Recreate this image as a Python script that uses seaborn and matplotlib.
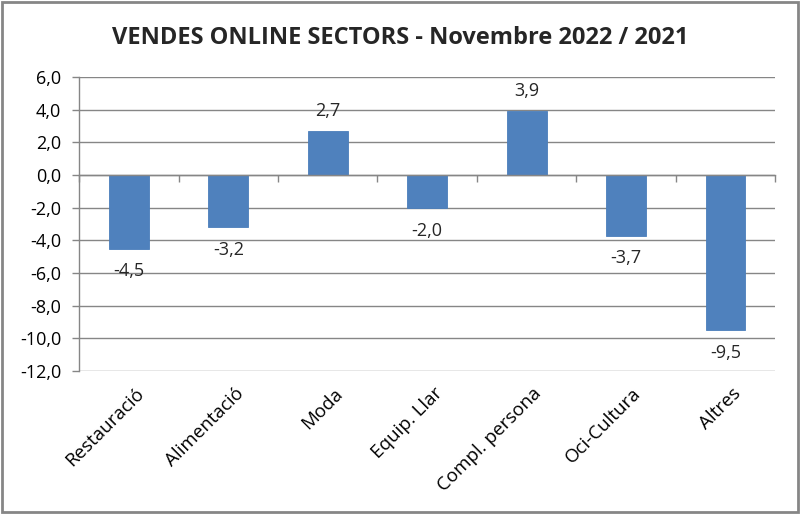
import matplotlib
matplotlib.use("Agg")
import matplotlib.pyplot as plt
import matplotlib.transforms as mtransforms
import seaborn as sns
import pandas as pd
import numpy as np

categories = ["Restauració", "Alimentació", "Moda", "Equip. Llar",
              "Compl. persona", "Oci-Cultura", "Altres"]
values = [-4.5, -3.2, 2.7, -2.0, 3.9, -3.7, -9.5]
title = "VENDES ONLINE SECTORS - Novembre 2022 / 2021"
yticks = [6, 4, 2, 0, -2, -4, -6, -8, -10, -12]

sns.set_theme(style="white")
plt.rcParams['font.family'] = ['Open Sans', 'DejaVu Sans']

df = pd.DataFrame({"sector": categories, "valor": values})

fig = plt.figure(figsize=(8, 5.14), dpi=100)
ax = fig.add_axes([0.099, 0.278, 0.870, 0.572])

sns.barplot(data=df, x="sector", y="valor", color="#4F81BD", saturation=1,
            width=0.4, ax=ax, edgecolor="#4A7EBB", linewidth=0.6)

ax.set_ylim(-12, 6)
ax.set_xlim(-0.5, len(categories) - 0.5)
ax.set_yticks(yticks)
ax.set_yticklabels([f"{v:.1f}".replace(".", ",") for v in yticks], fontsize=13, color="#000000")
ax.yaxis.grid(True, color="#868686", linewidth=1)
ax.set_axisbelow(True)
ax.set_xlabel("")
ax.set_ylabel("")

for s in ["top", "right"]:
    ax.spines[s].set_visible(False)
ax.spines["left"].set_color("#868686")
ax.spines["left"].set_linewidth(1)
ax.spines["bottom"].set_position(("data", 0))
ax.spines["bottom"].set_color("#868686")
ax.spines["bottom"].set_linewidth(1)

ax.tick_params(axis="y", which="major", length=5, width=1, color="#868686",
               direction="out", left=True, pad=8)
ax.set_xticks(range(len(categories)))
ax.set_xticklabels([])
ax.tick_params(axis="x", which="major", length=0)
ax.set_xticks(np.arange(-0.5, len(categories), 1.0), minor=True)
ax.tick_params(axis="x", which="minor", length=5, width=1, color="#868686",
               direction="out", bottom=True)

trans = mtransforms.blended_transform_factory(ax.transData, ax.transAxes)
for i, c in enumerate(categories):
    ax.text(i + 0.06, -0.045, c, transform=trans, rotation=45, ha="right", va="top",
            rotation_mode="anchor", fontsize=13.5, color="#000000")

for i, v in enumerate(values):
    lab = f"{v:.1f}".replace(".", ",")
    if v >= 0:
        ax.annotate(lab, (i, v), xytext=(0, 8), textcoords="offset points",
                    ha="center", va="bottom", fontsize=13)
    else:
        ax.annotate(lab, (i, v), xytext=(0, -10), textcoords="offset points",
                    ha="center", va="top", fontsize=13)

fig.text(0.5, 0.926, title, ha="center", va="center", fontsize=17, fontweight="bold")

fig.patches.append(plt.Rectangle((0.002, 0.003), 0.995, 0.993, transform=fig.transFigure,
                                 fill=False, edgecolor="#868686", linewidth=2))

fig.savefig("out.png", dpi=100)
